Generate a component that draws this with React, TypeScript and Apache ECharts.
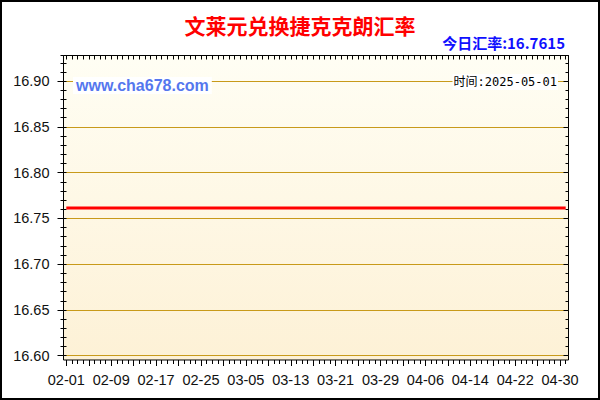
import { useEffect, useRef } from 'react';
import * as echarts from 'echarts';

/* ───── Data ───── */
const dates = [
  '02-01', '02-02', '02-03', '02-04', '02-05', '02-06', '02-07', '02-08', '02-09', '02-10',
  '02-11', '02-12', '02-13', '02-14', '02-15', '02-16', '02-17', '02-18', '02-19', '02-20',
  '02-21', '02-22', '02-23', '02-24', '02-25', '02-26', '02-27', '02-28',
  '03-01', '03-02', '03-03', '03-04', '03-05', '03-06', '03-07', '03-08', '03-09', '03-10',
  '03-11', '03-12', '03-13', '03-14', '03-15', '03-16', '03-17', '03-18', '03-19', '03-20',
  '03-21', '03-22', '03-23', '03-24', '03-25', '03-26', '03-27', '03-28', '03-29', '03-30', '03-31',
  '04-01', '04-02', '04-03', '04-04', '04-05', '04-06', '04-07', '04-08', '04-09', '04-10',
  '04-11', '04-12', '04-13', '04-14', '04-15', '04-16', '04-17', '04-18', '04-19', '04-20',
  '04-21', '04-22', '04-23', '04-24', '04-25', '04-26', '04-27', '04-28', '04-29', '04-30',
  '05-01',
];

const rates = [
  16.7615, 16.7615, 16.7615, 16.7615, 16.7615, 16.7615, 16.7615, 16.7615, 16.7615, 16.7615,
  16.7615, 16.7615, 16.7615, 16.7615, 16.7615, 16.7615, 16.7615, 16.7615, 16.7615, 16.7615,
  16.7615, 16.7615, 16.7615, 16.7615, 16.7615, 16.7615, 16.7615, 16.7615,
  16.7615, 16.7615, 16.7615, 16.7615, 16.7615, 16.7615, 16.7615, 16.7615, 16.7615, 16.7615,
  16.7615, 16.7615, 16.7615, 16.7615, 16.7615, 16.7615, 16.7615, 16.7615, 16.7615, 16.7615,
  16.7615, 16.7615, 16.7615, 16.7615, 16.7615, 16.7615, 16.7615, 16.7615, 16.7615, 16.7615, 16.7615,
  16.7615, 16.7615, 16.7615, 16.7615, 16.7615, 16.7615, 16.7615, 16.7615, 16.7615, 16.7615,
  16.7615, 16.7615, 16.7615, 16.7615, 16.7615, 16.7615, 16.7615, 16.7615, 16.7615, 16.7615,
  16.7615, 16.7615, 16.7615, 16.7615, 16.7615, 16.7615, 16.7615, 16.7615, 16.7615, 16.7615,
  16.7615,
];

const TITLE = '文莱元兑换捷克克朗汇率';
const TODAY = '今日汇率:16.7615';
const SITE = 'www.cha678.com';
const STAMP = '时间:2025-05-01';

const Y_MIN = 16.6;
const Y_MAX = 16.928;

const CJK = '"Noto Sans CJK SC", sans-serif';
const SANS = '"Liberation Sans", Arial, sans-serif';
const MONO = '"DejaVu Sans Mono", "Noto Sans CJK SC", monospace';
const GOLD = '#c89a1a';

/* ───── Chart ───── */
export default function App() {
  const ref = useRef<HTMLDivElement>(null);

  useEffect(() => {
    if (!ref.current) return;
    const chart = echarts.init(ref.current, undefined, { renderer: 'svg' });

    const frame = { left: 63.5, right: 31.5, top: 55.5 };
    const yBase = { type: 'value', gridIndex: 1, min: Y_MIN, max: Y_MAX, axisLine: { show: false }, splitLine: { show: false }, axisLabel: { show: false } };
    const tickStyle = { color: '#000', width: 1 };

    chart.setOption({
      animation: false,
      backgroundColor: '#fff',
      title: [
        { text: TITLE, left: 'center', top: 14, padding: 0, textStyle: { color: '#ff0000', fontSize: 21, fontWeight: 'bold', fontFamily: CJK } },
        { text: TODAY, right: 35, top: 35, padding: 0, textStyle: { color: '#1010ff', fontSize: 15, fontWeight: 'bold', fontFamily: CJK } },
        { text: SITE, left: 73, top: 77, padding: [0, 3], backgroundColor: '#fff', textStyle: { color: '#5577ee', fontSize: 16, fontWeight: 'bold', fontFamily: SANS, lineHeight: 17 } },
        { text: STAMP, right: 42, top: 74, padding: [1, 1], backgroundColor: '#fff', textStyle: { color: '#000', fontSize: 12, fontWeight: 'normal', fontFamily: MONO, lineHeight: 14 } },
      ],
      grid: [
        {
          ...frame, bottom: 40, show: true, borderColor: '#000', borderWidth: 1,
          backgroundColor: { type: 'linear', x: 0, y: 0, x2: 0, y2: 1, colorStops: [
            { offset: 0, color: '#fffef4' }, { offset: 1, color: '#fdf1d6' },
          ] },
        },
        { ...frame, bottom: 44.3, show: false },
      ],
      xAxis: [
        {
          type: 'category', gridIndex: 0, position: 'bottom', data: dates, boundaryGap: true,
          axisLine: { show: false },
          axisTick: { show: true, interval: 3, alignWithLabel: true, length: 6, lineStyle: tickStyle },
          axisLabel: { interval: 7, margin: 12, color: '#111', fontSize: 14.5, fontFamily: SANS },
        },
        {
          type: 'category', gridIndex: 0, position: 'bottom', data: dates, boundaryGap: true,
          axisLine: { show: false },
          axisTick: { show: true, interval: 0, alignWithLabel: true, length: 4, lineStyle: tickStyle },
          axisLabel: { show: false },
        },
        {
          type: 'category', gridIndex: 0, position: 'top', data: dates, boundaryGap: true,
          axisLine: { show: false },
          axisTick: { show: true, inside: true, interval: 0, alignWithLabel: true, length: 4, lineStyle: tickStyle },
          axisLabel: { show: false },
        },
        { type: 'category', gridIndex: 1, data: dates, boundaryGap: true, show: false },
      ],
      yAxis: [
        { type: 'value', gridIndex: 0, show: false },
        {
          type: 'value', gridIndex: 1, position: 'left', min: Y_MIN, max: Y_MAX, interval: 0.05,
          axisLine: { show: false },
          axisTick: { show: true, length: 6, lineStyle: tickStyle },
          axisLabel: { showMaxLabel: false, margin: 14, color: '#111', fontSize: 14.5, fontFamily: SANS, formatter: (v: number) => v.toFixed(2) },
          splitLine: { show: true, showMaxLine: false, lineStyle: { color: GOLD, width: 1 } },
        },
        { ...yBase, position: 'left', interval: 0.01, axisTick: { show: true, length: 3, lineStyle: tickStyle } },
        { ...yBase, position: 'left', interval: 0.01, axisTick: { show: true, inside: true, length: 3, lineStyle: tickStyle } },
        { ...yBase, position: 'right', interval: 0.01, axisTick: { show: true, inside: true, length: 3, lineStyle: tickStyle } },
        { ...yBase, position: 'right', interval: 0.05, axisTick: { show: true, inside: true, length: 5, lineStyle: tickStyle } },
      ],
      series: [
        {
          name: '汇率', type: 'line', xAxisIndex: 3, yAxisIndex: 1, data: rates,
          symbol: 'none', lineStyle: { color: '#ff0000', width: 3 }, z: 5,
        },
      ],
      graphic: [
        { type: 'rect', silent: true, z: 100, shape: { x: 1, y: 1, width: 598, height: 398 }, style: { fill: 'none', stroke: '#000', lineWidth: 2 } },
      ],
    });

    return () => { chart.dispose(); };
  }, []);

  return <div ref={ref} style={{ position: 'absolute', left: 0, top: 0, width: 600, height: 400 }} />;
}
